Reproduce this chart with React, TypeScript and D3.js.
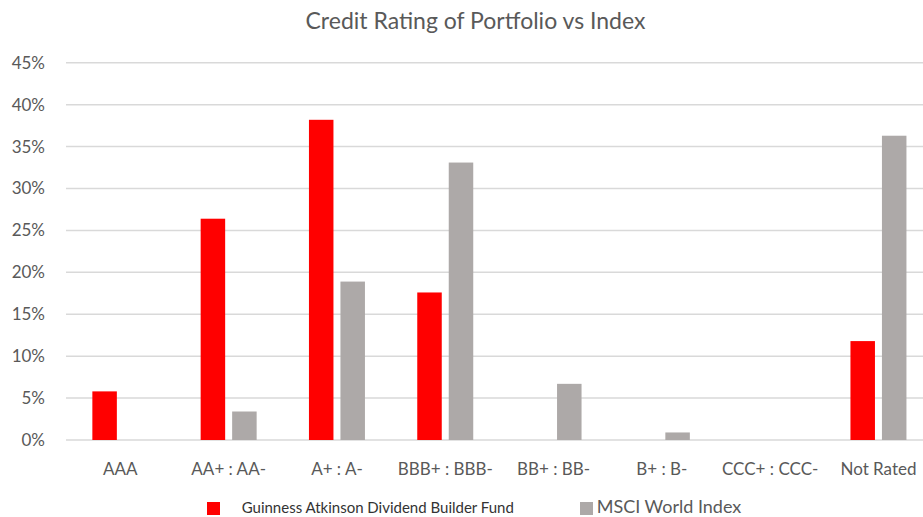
import React from "react";
import * as d3 from "d3";

const categories = ["AAA", "AA+ : AA-", "A+ : A-", "BBB+ : BBB-", "BB+ : BB-", "B+ : B-", "CCC+ : CCC-", "Not Rated"];
const fundValues = [5.8, 26.4, 38.2, 17.6, 0, 0, 0, 11.8];
const indexValues = [0, 3.4, 18.9, 33.1, 6.7, 0.9, 0, 36.3];
const yTicks = [0, 5, 10, 15, 20, 25, 30, 35, 40, 45];
const seriesNames = ["Guinness Atkinson Dividend Builder Fund", "MSCI World Index"];

const W = 923;
const H = 517;
const FONT = "Lato, 'Open Sans', sans-serif";
const TEXT = "#595959";
const RED = "#FF0000";
const GRAY = "#ADA9A8";

export default function App() {
  const x = d3.scaleBand<string>().domain(categories).range([66.2, 932.6]).paddingInner(0.483).paddingOuter(0.2415);
  const xs = d3.scaleBand<string>().domain(["fund", "index"]).range([0, x.bandwidth()]).paddingInner(0.222);
  const y = d3.scaleLinear().domain([0, 45]).range([440, 62.8]);

  return (
    <svg width={W} height={H} style={{ position: "absolute", left: 0, top: 0, background: "#fff" }} overflow="hidden">
      <rect x={0} y={0} width={W} height={H} fill="#fff" />
      <text x={475.5} y={29} textAnchor="middle" fontFamily={FONT} fontSize={23} fill={TEXT}>
        Credit Rating of Portfolio vs Index
      </text>
      {yTicks.map((t) => (
        <g key={t}>
          <line x1={66} x2={W} y1={y(t)} y2={y(t)} stroke="#D9D9D9" strokeWidth={1.5} />
          <text x={45} y={y(t)} dy="0.35em" textAnchor="end" fontFamily={FONT} fontSize={17} fill={TEXT}>
            {t}%
          </text>
        </g>
      ))}
      {categories.map((c, i) => (
        <g key={c} transform={`translate(${x(c)},0)`}>
          {fundValues[i] > 0 && (
            <rect x={xs("fund")} y={y(fundValues[i])} width={xs.bandwidth()} height={y(0) - y(fundValues[i])} fill={RED} />
          )}
          {indexValues[i] > 0 && (
            <rect x={xs("index")} y={y(indexValues[i])} width={xs.bandwidth()} height={y(0) - y(indexValues[i])} fill={GRAY} />
          )}
          <text x={x.bandwidth() / 2} y={475} textAnchor="middle" fontFamily={FONT} fontSize={17} fill={TEXT}>
            {c}
          </text>
        </g>
      ))}
      <rect x={207} y={502} width={13} height={13} fill={RED} />
      <text x={241.7} y={513} fontFamily={FONT} fontSize={15} fill="#333">
        {seriesNames[0]}
      </text>
      <rect x={580} y={502} width={13} height={13} fill={GRAY} />
      <text x={596.7} y={513} fontFamily={FONT} fontSize={18} fill={TEXT}>
        {seriesNames[1]}
      </text>
    </svg>
  );
}
